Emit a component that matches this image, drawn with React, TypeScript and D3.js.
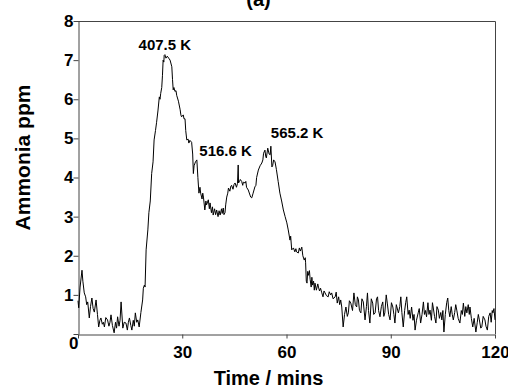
import React, { useRef, useEffect } from 'react';
import * as d3 from 'd3';

// readings: [time (mins), ammonia (ppm)]
const baseline: [number, number][] = [
  [0, 0.85], [0.2, 0.67], [0.6, 1.2], [1.15, 1.63], [1.4, 1.35], [1.8, 1.05], [2.2, 0.95], [2.5, 0.75],
  [2.8, 0.82], [3.25, 0.41], [3.6, 0.7], [4.0, 0.92], [4.35, 0.65], [4.7, 0.56], [5.2, 0.87], [5.6, 0.5],
  [5.95, 0.18], [6.3, 0.35], [6.6, 0.41], [7.0, 0.25], [7.3, 0.3], [7.6, 0.18], [8.0, 0.42], [8.5, 0.36],
  [8.9, 0.2], [9.2, 0.3], [9.5, 0.49], [9.9, 0.22], [10.4, 0.03], [10.8, 0.3], [11.1, 0.15], [11.4, 0.44],
  [11.8, 0.2], [12.1, 0.35], [12.4, 0.82], [12.9, 0.15], [13.3, 0.3], [13.8, 0.28], [14.2, 0.1], [14.5, 0.3],
  [14.8, 0.41], [15.2, 0.22], [15.5, 0.1], [15.9, 0.35], [16.2, 0.2], [16.5, 0.54], [16.9, 0.3], [17.2, 0.36],
  [17.6, 0.18], [18.1, 0.55], [18.6, 0.87], [18.8, 1.17], [19.1, 1.25], [19.3, 1.2], [19.6, 2.15], [20.1, 2.66],
];

const desorption: [number, number][] = [
  [20.4, 3.1], [20.8, 3.4], [21.2, 4.1], [21.6, 4.4], [21.9, 4.96], [22.3, 5.2], [22.6, 5.4], [23.0, 5.7],
  [23.4, 6.06], [23.6, 6.0], [23.8, 6.15], [24.1, 6.3], [24.3, 6.6], [24.5, 7.0], [24.7, 6.95], [24.8, 7.12],
  [25.0, 7.14], [25.3, 7.05], [25.7, 7.1], [26.1, 7.05], [26.5, 7.0], [27.0, 6.83], [27.2, 6.5], [27.4, 6.24],
  [27.6, 6.3], [27.9, 6.2], [28.2, 6.22], [28.4, 6.1], [28.9, 5.95], [29.4, 5.73], [29.6, 5.6], [29.8, 5.55],
  [30.3, 5.6], [30.5, 5.5], [30.8, 5.5], [31.0, 5.2], [31.3, 4.96], [31.7, 4.98], [31.9, 4.88], [32.2, 4.95],
  [32.7, 4.9], [33.0, 4.6], [33.2, 4.1], [33.4, 4.3], [33.8, 4.4], [34.2, 4.45], [34.5, 4.0], [34.8, 3.6],
  [35.1, 3.75], [35.3, 3.6], [35.7, 3.45], [35.9, 3.6], [36.1, 3.5], [36.5, 3.17], [36.8, 3.4], [37.0, 3.3],
  [37.5, 3.43], [37.8, 3.2], [38.0, 3.35], [38.4, 3.1], [38.7, 3.25], [38.9, 3.04], [39.3, 3.2], [39.6, 3.05],
  [39.9, 3.17], [40.3, 3.0], [40.6, 3.15], [40.9, 3.04], [41.3, 3.2], [41.5, 3.08], [41.8, 3.22], [42.0, 3.05],
  [42.3, 3.1], [42.5, 3.3], [42.8, 3.5], [43.1, 3.6], [43.3, 3.73], [43.7, 3.65], [44.0, 3.78], [44.2, 3.8],
  [44.6, 3.7], [44.9, 3.82], [45.2, 3.86], [45.6, 3.75], [45.9, 3.85], [46.1, 4.32], [46.2, 3.86], [46.5, 3.9],
  [46.7, 3.95], [47.1, 3.9], [47.4, 3.8], [47.6, 3.88], [48.1, 3.86], [48.3, 3.9], [48.5, 3.75], [49.0, 3.68],
  [49.5, 3.55], [49.7, 3.5], [50.0, 3.48], [50.4, 3.6], [50.9, 3.76], [51.2, 3.8], [51.4, 4.0], [51.9, 4.19],
  [52.4, 4.3], [52.9, 4.37], [53.2, 4.45], [53.4, 4.62], [53.8, 4.7], [54.0, 4.55], [54.2, 4.5], [54.6, 4.75],
  [55.0, 4.6], [55.3, 4.58], [55.5, 4.8], [55.8, 4.27], [56.0, 4.3], [56.3, 4.45], [56.7, 4.4], [57.1, 4.2],
  [57.6, 3.9], [58.1, 3.6], [58.6, 3.4], [59.1, 3.17], [59.6, 3.0], [60.1, 2.84], [60.5, 2.66], [61.0, 2.4],
  [61.2, 2.5], [61.5, 2.15], [62.0, 2.2], [62.4, 2.1], [62.7, 2.18], [62.9, 2.1], [63.4, 2.07], [63.7, 2.2],
  [64.0, 2.12], [64.4, 2.22], [64.7, 2.0], [65.1, 1.89], [65.4, 1.95], [65.5, 1.82], [65.7, 1.35], [65.9, 1.3],
  [66.1, 1.6], [66.3, 1.5], [66.6, 1.62], [66.8, 1.4], [67.1, 1.2], [67.3, 1.45], [67.5, 1.25], [67.8, 1.35],
  [68.0, 1.12], [68.2, 1.3], [68.6, 1.12], [69.0, 1.28], [69.2, 1.2], [69.5, 1.1], [69.8, 1.17],
];

const tail: [number, number][] = [
  [70.1, 1.07], [70.5, 0.95], [70.8, 1.1], [71.1, 1.05], [71.5, 0.98], [72.0, 0.95], [72.3, 1.08], [72.7, 1.0],
  [73.0, 1.05], [73.4, 0.9], [74.0, 0.95], [74.3, 1.07], [74.6, 0.79], [75.0, 0.95], [75.3, 0.75], [75.6, 0.87],
  [75.9, 0.69], [76.3, 0.18], [76.7, 0.5], [77.1, 0.69], [77.5, 0.45], [77.8, 0.54], [78.1, 0.85], [78.5, 0.79],
  [79.0, 0.6], [79.4, 1.05], [79.8, 0.75], [80.2, 0.69], [80.4, 0.95], [80.7, 0.87], [81.0, 0.6], [81.4, 0.54],
  [81.7, 0.9], [82.1, 0.82], [82.6, 0.36], [83.0, 0.7], [83.3, 1.05], [83.6, 0.6], [84.0, 0.28], [84.4, 0.9],
  [84.8, 0.79], [85.1, 0.5], [85.5, 0.54], [85.9, 0.9], [86.2, 0.95], [86.5, 0.6], [86.9, 0.44], [87.3, 0.7],
  [87.7, 0.82], [88.0, 0.45], [88.3, 0.54], [88.7, 1.0], [89.0, 0.79], [89.4, 0.5], [89.8, 0.36], [90.2, 0.8],
  [90.6, 0.69], [90.9, 0.5], [91.2, 0.28], [91.6, 0.75], [92.2, 0.54], [92.6, 0.7], [92.9, 0.95], [93.2, 0.55],
  [93.6, 0.18], [94.0, 0.6], [94.3, 0.8], [94.6, 0.95], [95.0, 0.5], [95.3, 0.61], [95.6, 0.4], [96.0, 0.69],
  [96.4, 0.35], [96.7, 0.5], [97.0, 0.1], [97.4, 0.35], [97.9, 0.54], [98.2, 0.65], [98.6, 0.28], [99.0, 0.5],
  [99.4, 0.82], [99.7, 0.5], [100.0, 0.6], [100.3, 0.44], [100.7, 0.8], [101.0, 0.5], [101.3, 0.61], [101.7, 0.35],
  [102.0, 0.8], [102.2, 0.69], [102.6, 0.45], [103.0, 0.28], [103.3, 0.7], [103.7, 0.61], [104.0, 0.4], [104.4, 0.55],
  [104.7, 0.36], [105.0, 0.6], [105.3, 0.05], [105.7, 0.5], [106.1, 0.8], [106.4, 0.92], [106.7, 0.6], [107.0, 0.44],
  [107.4, 0.7], [107.7, 0.5], [108.0, 0.36], [108.4, 0.55], [108.7, 0.75], [109.0, 0.61], [109.4, 0.4], [109.9, 0.28],
  [110.3, 0.6], [110.6, 0.5], [110.9, 0.79], [111.3, 0.45], [111.6, 0.7], [111.9, 0.54], [112.3, 0.75], [112.6, 0.5],
  [112.8, 0.69], [113.2, 0.4], [113.6, 0.18], [114.0, 0.4], [114.5, 0.05], [114.9, 0.3], [115.2, 0.5], [115.5, 0.36],
  [115.9, 0.15], [116.2, 0.18], [116.6, 0.45], [117.1, 0.36], [117.4, 0.2], [117.8, 0.1], [118.2, 0.45], [118.6, 0.54],
  [118.9, 0.3], [119.2, 0.6], [119.4, 0.54], [119.7, 0.65], [120.0, 0.36],
];

const xTicks = [0, 30, 60, 90, 120];
const yTicks = [0, 1, 2, 3, 4, 5, 6, 7, 8];

const peakLabels = ['407.5 K', '516.6 K', '565.2 K'];
const peakTimes = [25.0, 34.2, 55.5];
const peakValues = [7.14, 4.45, 4.8];

const FONT = "Arial, 'Liberation Sans', sans-serif";

function AmmoniaChart() {
  const svgRef = useRef<SVGSVGElement>(null);

  useEffect(() => {
    const width = 508;
    const height = 391;
    const marginTop = 21;
    const marginRight = 13;
    const marginBottom = 57;
    const marginLeft = 78;

    const data = [...baseline, ...desorption, ...tail];

    const x = d3.scaleLinear()
      .domain([0, 120])
      .range([marginLeft, width - marginRight]);

    const y = d3.scaleLinear()
      .domain([0, 8])
      .range([height - marginBottom, marginTop]);

    const line = d3.line<[number, number]>()
      .x(d => x(d[0]))
      .y(d => y(d[1]));

    const svg = d3.select(svgRef.current);
    svg.selectAll('*').remove();
    svg.attr('width', width)
      .attr('height', height)
      .attr('viewBox', [0, 0, width, height].join(' '));

    // frame (top & right)
    svg.append('path')
      .attr('fill', 'none')
      .attr('stroke', '#444')
      .attr('d', `M${marginLeft},${marginTop + 0.5}H${width - marginRight + 0.5}V${height - marginBottom}`);

    const xAxis = svg.append('g')
      .attr('transform', `translate(0,${height - marginBottom + 0.5})`)
      .call(d3.axisBottom(x).tickValues(xTicks).tickSize(4).tickPadding(7).tickSizeOuter(0));
    xAxis.select('.domain').attr('stroke', '#444');
    xAxis.selectAll('.tick line').attr('stroke', '#444');
    xAxis.selectAll('.tick text').filter((d: any) => d === 0).remove();

    const yAxis = svg.append('g')
      .attr('transform', `translate(${marginLeft + 0.5},0)`)
      .call(d3.axisLeft(y).tickValues(yTicks).tickSize(5).tickPadding(0).tickSizeOuter(0));
    yAxis.select('.domain').attr('stroke', '#444');
    yAxis.selectAll('.tick line').attr('stroke', '#444');
    yAxis.selectAll('.tick text').filter((d: any) => d === 0)
      .attr('x', 0)
      .attr('y', 9.5);

    svg.selectAll('.tick text')
      .attr('fill', '#000')
      .style('font-family', FONT)
      .style('font-size', '17px')
      .style('font-weight', 'bold');

    svg.append('path')
      .attr('fill', 'none')
      .attr('stroke', '#000')
      .attr('stroke-width', 1)
      .attr('stroke-linejoin', 'round')
      .attr('d', line(data));

    // peak temperature labels
    const labelOffsets = [[0, -5, 'middle'], [2.5, -3.5, 'start'], [0, -8, 'start']];
    svg.append('g')
      .selectAll('text')
      .data(peakLabels)
      .join('text')
      .attr('x', (d, i) => x(peakTimes[i]) + (labelOffsets[i][0] as number))
      .attr('y', (d, i) => y(peakValues[i]) + (labelOffsets[i][1] as number))
      .attr('text-anchor', (d, i) => labelOffsets[i][2] as string)
      .style('font-family', FONT)
      .style('font-size', '15px')
      .style('font-weight', 'bold')
      .text(d => d);

    svg.append('text')
      .attr('x', 268.5)
      .attr('y', 385)
      .attr('text-anchor', 'middle')
      .style('font-family', FONT)
      .style('font-size', '20px')
      .style('font-weight', 'bold')
      .text('Time / mins');

    svg.append('text')
      .attr('transform', `translate(30,157.5) rotate(-90)`)
      .attr('text-anchor', 'middle')
      .style('font-family', FONT)
      .style('font-size', '21px')
      .style('font-weight', 'bold')
      .text('Ammonia ppm');

    svg.append('text')
      .attr('x', 258.5)
      .attr('y', 6)
      .attr('text-anchor', 'middle')
      .style('font-family', FONT)
      .style('font-size', '20px')
      .style('font-weight', 'bold')
      .text('(a)');
  }, []);

  return <svg ref={svgRef} style={{ position: 'absolute', left: 0, top: 0 }}></svg>;
}

export default function App() {
  return <AmmoniaChart />;
}
